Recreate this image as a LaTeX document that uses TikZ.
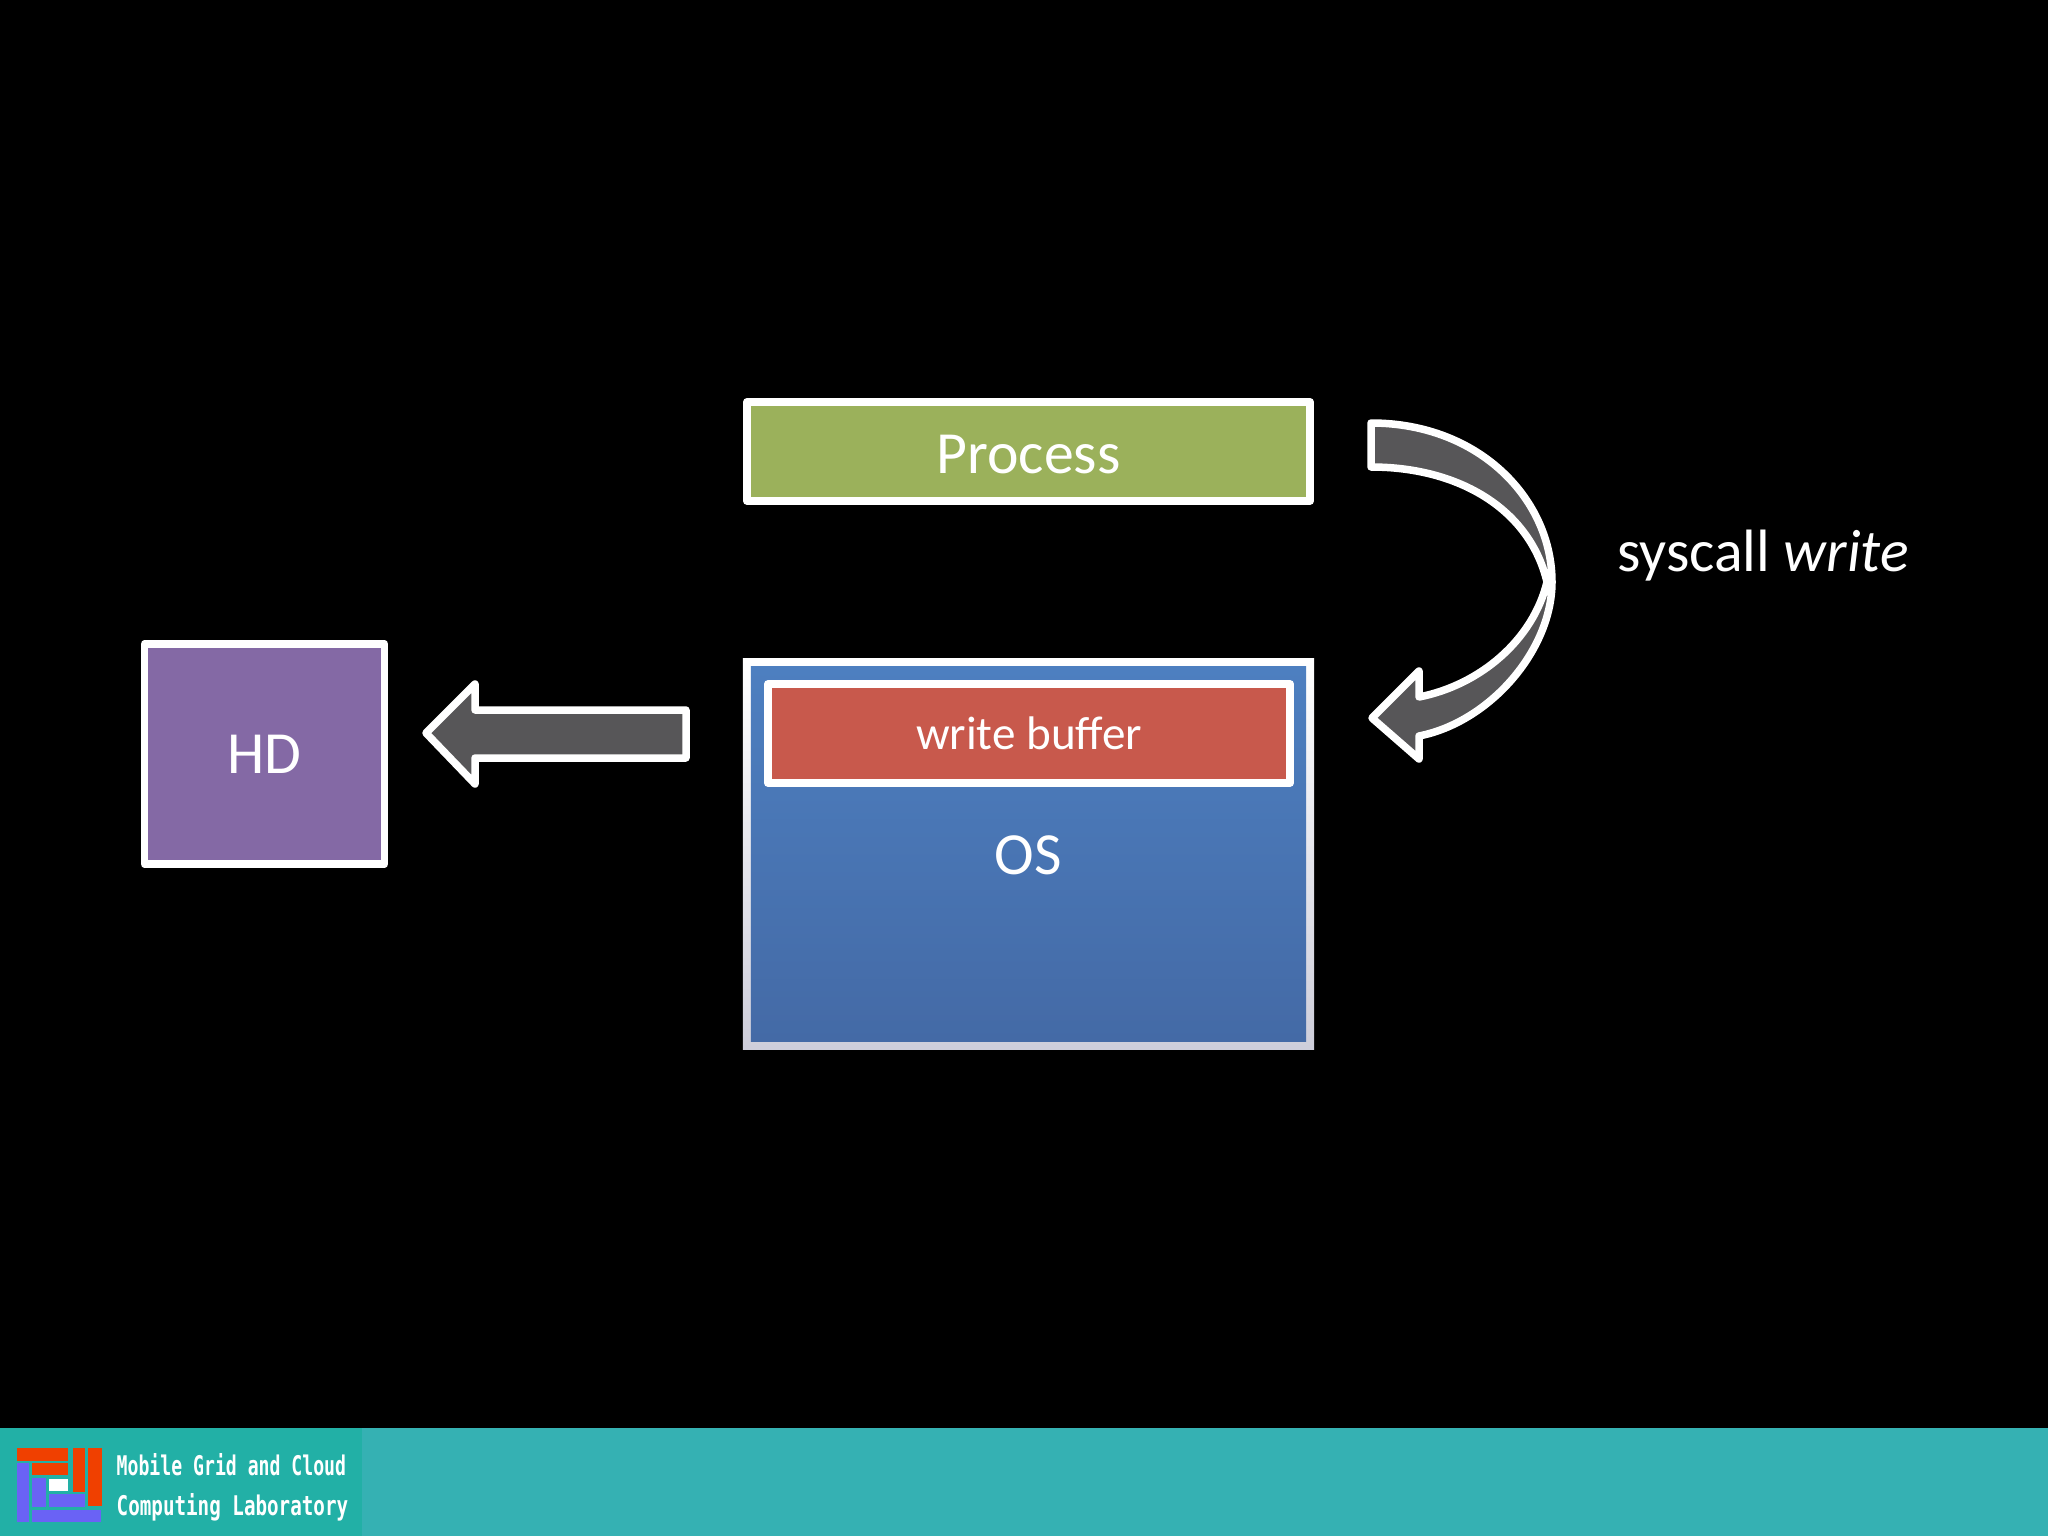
\documentclass[tikz,border=0pt]{standalone}
\usepackage{fontspec}
\usepackage{tikz}
\usetikzlibrary{shadows}
\setmainfont{Carlito}
\newfontfamily\logofont[FakeStretch=0.67]{DejaVu Sans Mono}
\newfontfamily\logofontwide[FakeStretch=0.71]{DejaVu Sans Mono}

\definecolor{barteal}{HTML}{35B1B3}
\definecolor{logoteal}{HTML}{22B0A6}
\definecolor{logored}{HTML}{F04000}
\definecolor{logoblue}{HTML}{6A62F5}
\definecolor{arrowgray}{HTML}{575658}
\definecolor{hdpurple}{HTML}{8469A5}
\definecolor{procgreen}{HTML}{9BB15B}
\definecolor{bufred}{HTML}{C8594C}
\definecolor{ostop}{HTML}{4D7FC0}
\definecolor{osbottom}{HTML}{446AA6}

\tikzset{
    box/.style={draw=white, line width=0.075cm, line join=round, inner sep=0pt,
        text=white, font=\fontsize{17}{20}\selectfont},
    label/.style={inner sep=0pt, text=white, font=\fontsize{17}{20}\selectfont},
    blockarrow/.style={draw=white, fill=arrowgray, line width=0.075cm, line join=round},
    logotext/.style={anchor=west, inner sep=0pt, text=white}
}

\begin{document}
\begin{tikzpicture}[x=0.01cm,y=-0.01cm]
    \fill[black] (0,0) rectangle (2048,1536);

    % main boxes
    \node[box, fill=procgreen, minimum width=5.63cm, minimum height=0.99cm, text height=0.435cm] (process) at (1028.5,451.5) {Process};
    \node[inner sep=0pt, top color=white, bottom color=black!15!white!95!blue, minimum width=5.71cm, minimum height=3.90cm] (osframe) at (1028.5,854) {};
    \node[inner sep=0pt, top color=ostop, bottom color=osbottom, minimum width=5.55cm, minimum height=3.74cm] (os) at (1028.5,854) {};
    \node[box, fill=bufred, minimum width=5.22cm, minimum height=0.99cm,
        font=\fontsize{13.4}{16}\selectfont,
        drop shadow={shadow xshift=0pt, shadow yshift=-1pt, opacity=.4}] (buffer) at (1029,733.5) {write buffer};
    \node[label] (oslabel) at (1028.5,855) {OS};
    \node[box, fill=hdpurple, minimum width=2.40cm, minimum height=2.20cm] (hd) at (264.5,754) {HD};
    \node[label] (syscall) at (1763,556) {syscall \textit{write}};

    % arrows
    \draw[blockarrow] (686,710) -- (686,758) -- (475,758) -- (475,784) -- (426,733) -- (475,684) -- (475,710) -- cycle;
    \draw[blockarrow] (1371,423) .. controls (1480,423) and (1552,500) .. (1552,582)
        .. controls (1552,650) and (1490,722) .. (1419,736)
        -- (1419,759) -- (1372,718) -- (1419,671) -- (1419,697)
        .. controls (1480,685) and (1533,640) .. (1547,582)
        .. controls (1530,510) and (1460,467) .. (1371,467) -- cycle;

    % footer
    \fill[barteal] (0,1428) rectangle (2048,1536);
    \fill[logoteal] (0,1428) rectangle (362,1536);
    \fill[logored] (17,1448) rectangle (68,1461);
    \fill[logored] (32,1463) rectangle (68,1475);
    \fill[logored] (73,1448) rectangle (85,1492);
    \fill[logored] (88,1448) rectangle (102,1506);
    \fill[logoblue] (17,1463) rectangle (29,1522);
    \fill[logoblue] (32,1478) rectangle (46,1507);
    \fill[logoblue] (49,1494) rectangle (85,1507);
    \fill[logoblue] (32,1510) rectangle (101,1522);
    \fill[white] (49,1479) rectangle (68,1491);
    \node[logotext, font=\logofont\bfseries\fontsize{7.7}{9}\selectfont] (lab1) at (116,1465) {Mobile Grid and Cloud};
    \node[logotext, font=\logofontwide\bfseries\fontsize{7.7}{9}\selectfont] (lab2) at (116,1507) {Computing Laboratory};
\end{tikzpicture}
\end{document}
